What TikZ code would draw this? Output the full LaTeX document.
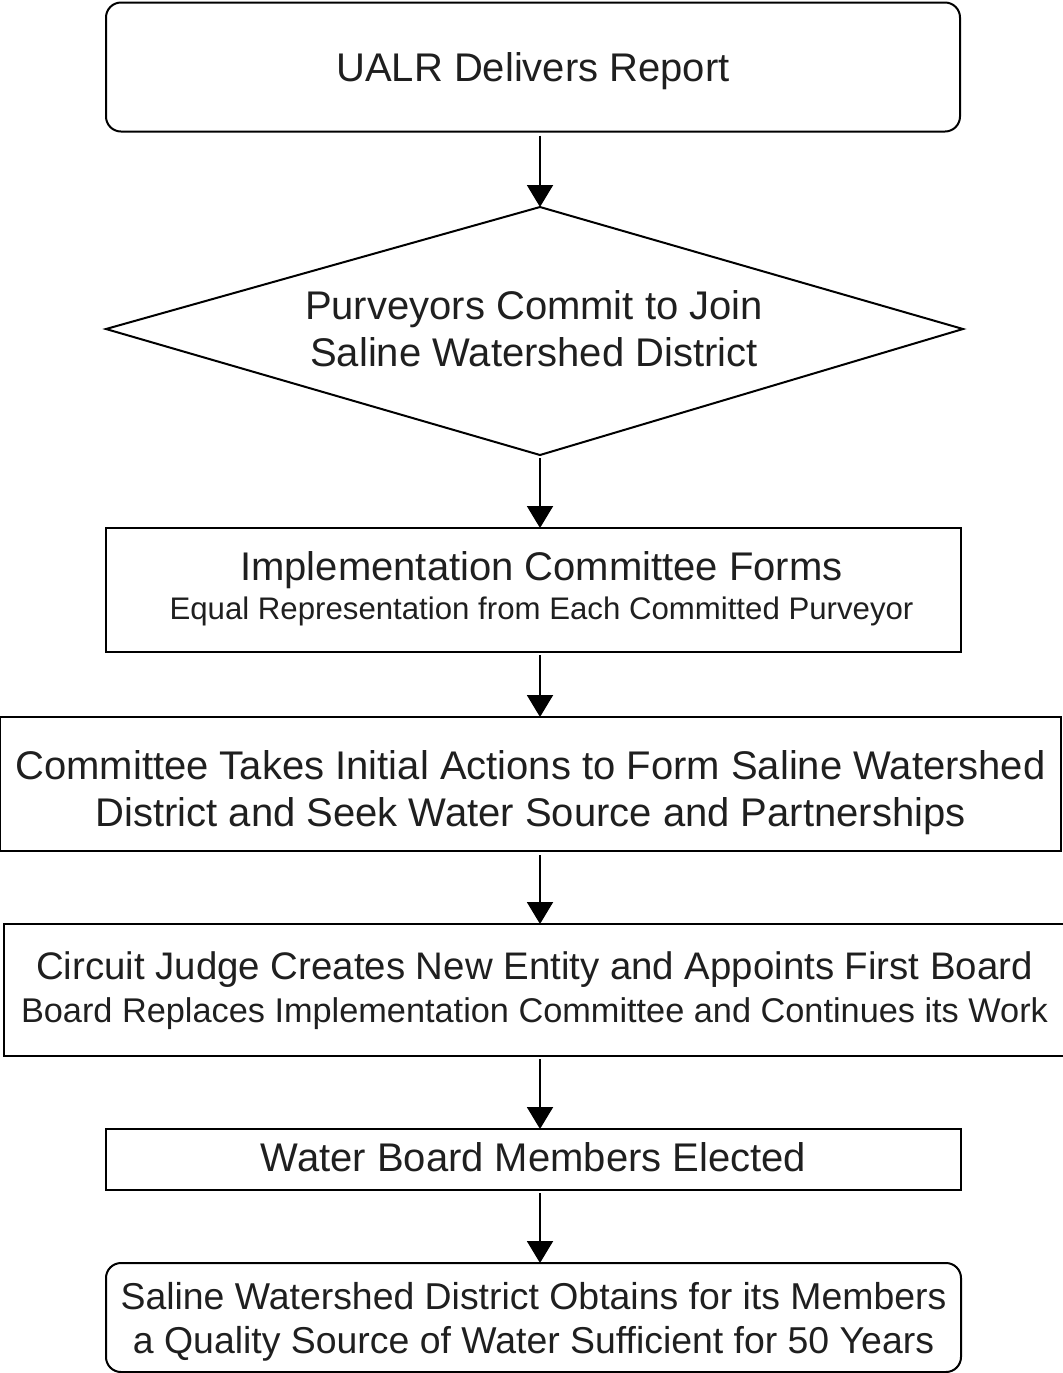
\documentclass[tikz,border=0pt]{standalone}
\usepackage{fontspec}
\setmainfont{Liberation Sans}
\usetikzlibrary{arrows.meta}
\begin{document}
\begin{tikzpicture}[x=0.5pt,y=-0.5pt,
  every node/.style={inner sep=0pt,outer sep=0pt,align=center,text=black!88,text depth=0pt},
  big/.style={font=\fontsize{20}{23.5}\selectfont},
  stepbox/.style={draw,line width=1pt,rectangle},
  roundbox/.style={stepbox,rounded corners=7.5pt},
  flow/.style={line width=1pt,-{Triangle[width=13pt,length=11pt]}}]
\useasboundingbox (0,0) rectangle (1063,1373);

% vertical line on which all connectors run
\coordinate (spine) at (540,0);

% frames
\node[roundbox,minimum width=427pt,minimum height=64.5pt] (report) at (533,67) {};
\coordinate (jtop) at (540,207);
\coordinate (jbot) at (540,455);
\draw[line width=1pt,line join=miter] (106,329) -- (jtop) -- (963,329) -- (jbot) -- cycle;
\node[stepbox,minimum width=427.5pt,minimum height=62pt] (forms) at (533.5,590) {};
\node[stepbox,minimum width=530.5pt,minimum height=67pt] (actions) at (530.5,784) {};
\node[stepbox,minimum width=531pt,minimum height=66pt] (judge) at (534.5,990) {};
\node[stepbox,minimum width=427.5pt,minimum height=30.5pt] (elected) at (533.5,1159.5) {};
\node[roundbox,minimum width=427.5pt,minimum height=54.5pt] (obtains) at (533.5,1317.5) {};

% texts
\node[big] (reporttext) at (533,67) {UALR Delivers Report};
\node[big] (join) at (534,328) {Purveyors Commit to Join\\Saline Watershed District};
\node[big] (formstext) at (541.5,585.5)
  {Implementation Committee Forms\\[-4pt]{\fontsize{15.6}{18}\selectfont Equal Representation from Each Committed Purveyor}};
\node[big] (actionstext) at (530.5,788)
  {Committee Takes Initial Actions to Form Saline Watershed\\District and Seek Water Source and Partnerships};
\node[big] (judgetext) at (534.5,987)
  {{\fontsize{19.2}{22}\selectfont Circuit Judge Creates New Entity and Appoints First Board}\\[-2pt]{\fontsize{17.15}{20}\selectfont Board Replaces Implementation Committee and Continues its Work}};
\node[big] (electedtext) at (533.5,1156.5) {Water Board Members Elected};
\node[font=\fontsize{18.7}{22}\selectfont] (obtainstext) at (533.5,1317.5)
  {Saline Watershed District Obtains for its Members\\a Quality Source of Water Sufficient for 50 Years};

% connectors
\draw[flow] ([yshift=-2pt]report.south -| spine) -- (jtop);
\draw[flow] ([yshift=-1.5pt]jbot) -- (forms.north -| spine);
\draw[flow] ([yshift=-1.5pt]forms.south -| spine) -- (actions.north -| spine);
\draw[flow] ([yshift=-2pt]actions.south -| spine) -- (judge.north -| spine);
\draw[flow] ([yshift=-1.5pt]judge.south -| spine) -- (elected.north -| spine);
\draw[flow] ([yshift=-1.5pt]elected.south -| spine) -- (obtains.north -| spine);
\end{tikzpicture}
\end{document}
